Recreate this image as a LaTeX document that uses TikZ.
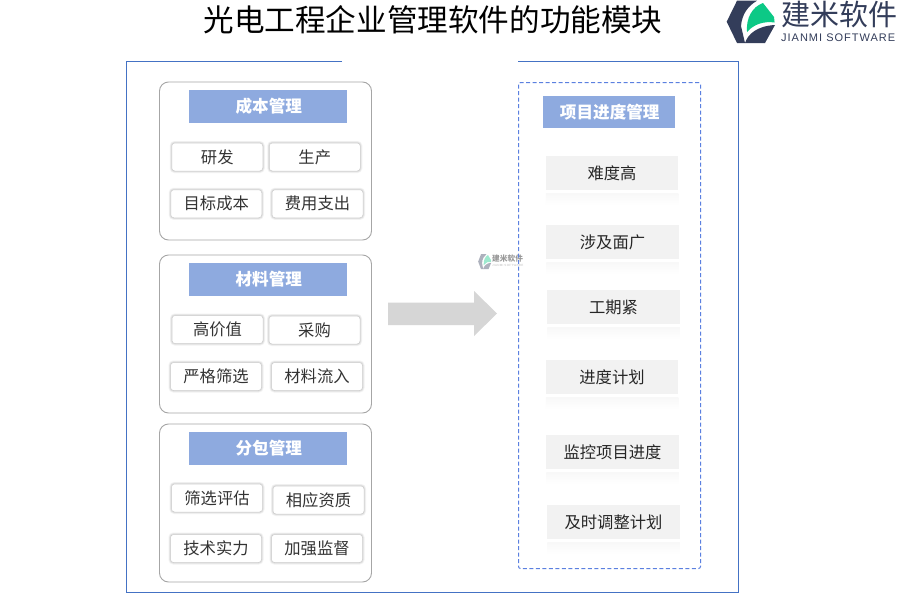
\documentclass[tikz,border=0pt]{standalone}
\usepackage{fontspec}
\setmainfont{Noto Sans CJK SC}
\newfontfamily\latinfont[LetterSpace=9]{Liberation Sans}

\definecolor{framec}{HTML}{4472C4}
\definecolor{headc}{HTML}{8EAADF}
\definecolor{dashc}{HTML}{5B80E0}
\definecolor{barc}{HTML}{F2F2F2}
\definecolor{navyc}{HTML}{333D5A}
\definecolor{leafc}{HTML}{0CC986}

\tikzset{
	groupbox/.style = {draw=black!35, line width=0.9pt, rounded corners=9pt, minimum width=212pt, minimum height=158pt},
	headbox/.style = {fill=headc, text=white, font=\fontsize{16.6}{18}\selectfont\bfseries, inner sep=0pt},
	itembox/.style = {draw=black!20, line width=0.5pt, fill=white, rounded corners=3pt, minimum width=91pt, minimum height=28pt, inner sep=0pt,
		text=black!80, font=\fontsize{16.3}{18}\selectfont,
		preaction={draw=black!5, line width=4pt}, preaction={draw=black!12, line width=2.2pt}},
	barbox/.style = {fill=barc, minimum width=132.5pt, minimum height=34.5pt, inner sep=0pt,
		text=black!85, font=\fontsize{16.3}{18}\selectfont},
	glowbox/.style = {top color=barc!55, bottom color=white, shading angle=0, minimum width=132.5pt, minimum height=12pt, inner sep=0pt},
}

\newcommand{\logomark}{%
	\fill[navyc] (726.7,21.7) -- (737,0.7) -- (757,0.7) .. controls (748,6) and (742,14) .. (741,26) -- (745,43) -- (737,43) -- cycle;
	\fill[leafc] (747,32) .. controls (746,18) and (752,7) .. (763,3) -- (774,17) -- (774.6,22.5) .. controls (764,21) and (754,24) .. cycle;
	\fill[navyc] (745,43) .. controls (748,34) and (757,26) .. (775,25) -- (765,43) -- cycle;
}

\begin{document}
\begin{tikzpicture}[x=1pt, y=-1pt]
	\useasboundingbox (0,0) rectangle (900,600);
	\fill[white] (0,0) rectangle (900,600);
	
	\node (pagetitle) at (433,20) {\fontsize{30.6}{32}\selectfont 光电工程企业管理软件的功能模块};
	
	% logo
	\logomark
	\node[text=navyc, anchor=west, inner sep=0pt] (logoname) at (781.5,14.5) {\fontsize{29}{30}\selectfont 建米软件};
	\node[text=navyc, anchor=west, inner sep=0pt] (logosub) at (781,37.5) {\fontsize{11}{12}\latinfont\selectfont JIANMI SOFTWARE};
	
	% faint mark
	\begin{scope}[opacity=0.4, shift={(478,254)}, xscale=0.27, yscale=0.35, shift={(-726,0)}]
		\logomark
	\end{scope}
	\node[text=black!40, anchor=west, inner sep=0pt] (markname) at (492,258.5) {\fontsize{7.7}{8}\selectfont\bfseries 建米软件};
	\node[text=black!25, anchor=west, inner sep=0pt] (marksub) at (492,265.5) {\fontsize{3}{4}\latinfont\selectfont JIANMI SOFTWARE};
	
	% outer frame, open at the top
	\draw[framec, line width=0.9pt] (342,61.5) -- (126.5,61.5) -- (126.5,592.5) -- (738.5,592.5) -- (738.5,61.5) -- (518,61.5);
	
	\foreach \cy/\hy/\txt/\nm in {161/106.5/成本管理/cost, 334/279.5/材料管理/material, 503/448/分包管理/sub} {
		\node[groupbox] (\nm group) at (265.5,\cy) {};
		\node[headbox, minimum width=158pt, minimum height=33pt] (\nm head) at (268,\hy) {\raisebox{0.8pt}{\hspace{1.5pt}\txt}};
	}
	
	\foreach \x/\y/\txt/\nm in {
		217.25/157/研发/costa, 314.75/157/生产/costb, 216.25/203.75/目标成本/costc, 317.5/203.75/费用支出/costd,
		217.5/329.5/高价值/materiala, 314.5/330/采购/materialb, 216/376.5/严格筛选/materialc, 317/376.5/材料流入/materiald,
		217/498/筛选评估/suba, 318.5/500/相应资质/subb, 216/548.5/技术实力/subc, 317/548.5/加强监督/subd} {
		\node[itembox] (\nm) at (\x,\y) {\raisebox{0.8pt}{\txt}\hspace{2pt}};
	}
	
	% block arrow
	\fill[black!16] (388,302.5) -- (474,302.5) -- (474,291) -- (497,313.5) -- (474,336) -- (474,325) -- (388,325) -- cycle;
	
	% right column
	\draw[dashc, line width=1pt, dash pattern=on 4pt off 2.5pt, rounded corners=2pt] (518.5,82.5) rectangle (700.5,568.5);
	\node[headbox, minimum width=132pt, minimum height=32pt] (planhead) at (609,112) {\raisebox{0.8pt}{\hspace{1.5pt}项目进度管理}};
	
	\foreach \x/\y/\txt/\nm in {
		612/173/难度高/bara, 612.5/242/涉及面广/barb, 613.5/307/工期紧/barc,
		612/377/进度计划/bard, 612.5/452/监控项目进度/bare, 613.5/522/及时调整计划/barf} {
		\node[glowbox] (\nm glow) at (\x,\y+26) {};
		\node[barbox] (\nm) at (\x,\y) {\raisebox{0.8pt}{\txt}};
	}
\end{tikzpicture}
\end{document}
